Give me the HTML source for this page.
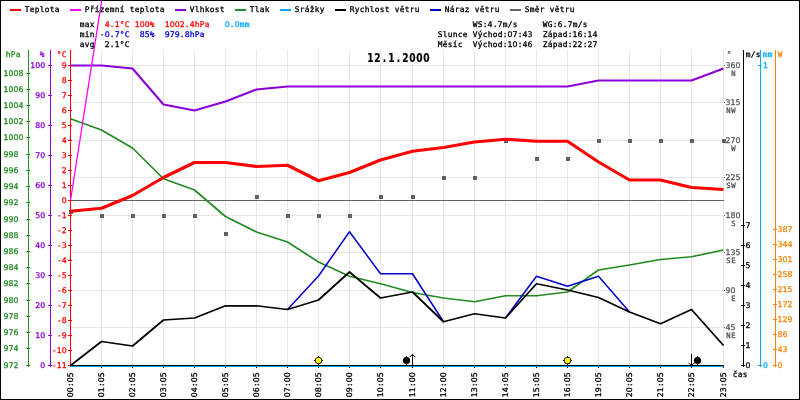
<!DOCTYPE html>
<html lang="cs"><head><meta charset="utf-8"><title>12.1.2000</title>
<style>html,body{margin:0;padding:0;background:#fff}svg{display:block}text{font-family:"DejaVu Sans Mono","Liberation Mono",monospace;font-size:7.8px;text-anchor:middle;stroke-width:0.3px}.d{font-family:"DejaVu Sans","Liberation Sans",sans-serif}.t{font-family:"DejaVu Sans","Liberation Sans",sans-serif;font-size:11.8px;font-weight:bold;stroke-width:0.2px}</style></head><body>
<svg width="800" height="400" viewBox="0 0 800 400">
<rect x="0" y="0" width="800" height="400" fill="#fff"/>
<g shape-rendering="crispEdges" fill="#ebe5e6">
<rect x="101" y="50" width="1" height="315"/>
<rect x="132" y="50" width="1" height="315"/>
<rect x="163" y="50" width="1" height="315"/>
<rect x="194" y="50" width="1" height="315"/>
<rect x="225" y="50" width="1" height="315"/>
<rect x="256" y="50" width="1" height="315"/>
<rect x="287" y="50" width="1" height="315"/>
<rect x="318" y="50" width="1" height="315"/>
<rect x="349" y="50" width="1" height="315"/>
<rect x="380" y="50" width="1" height="315"/>
<rect x="412" y="50" width="1" height="315"/>
<rect x="443" y="50" width="1" height="315"/>
<rect x="474" y="50" width="1" height="315"/>
<rect x="505" y="50" width="1" height="315"/>
<rect x="536" y="50" width="1" height="315"/>
<rect x="567" y="50" width="1" height="315"/>
<rect x="598" y="50" width="1" height="315"/>
<rect x="629" y="50" width="1" height="315"/>
<rect x="660" y="50" width="1" height="315"/>
<rect x="691" y="50" width="1" height="315"/>
<rect x="723" y="50" width="1" height="315"/>
<rect x="71" y="65" width="654" height="1"/>
<rect x="71" y="102" width="654" height="1"/>
<rect x="71" y="140" width="654" height="1"/>
<rect x="71" y="177" width="654" height="1"/>
<rect x="71" y="215" width="654" height="1"/>
<rect x="71" y="252" width="654" height="1"/>
<rect x="71" y="290" width="654" height="1"/>
<rect x="71" y="327" width="654" height="1"/>
</g>
<g shape-rendering="crispEdges" fill="#606060">
<rect x="69" y="210" width="4" height="4"/>
<rect x="100" y="214" width="4" height="4"/>
<rect x="131" y="214" width="4" height="4"/>
<rect x="162" y="214" width="4" height="4"/>
<rect x="193" y="214" width="4" height="4"/>
<rect x="224" y="232" width="4" height="4"/>
<rect x="255" y="195" width="4" height="4"/>
<rect x="286" y="214" width="4" height="4"/>
<rect x="317" y="214" width="4" height="4"/>
<rect x="348" y="214" width="4" height="4"/>
<rect x="379" y="195" width="4" height="4"/>
<rect x="411" y="195" width="4" height="4"/>
<rect x="442" y="176" width="4" height="4"/>
<rect x="473" y="176" width="4" height="4"/>
<rect x="504" y="139" width="4" height="4"/>
<rect x="535" y="157" width="4" height="4"/>
<rect x="566" y="157" width="4" height="4"/>
<rect x="597" y="139" width="4" height="4"/>
<rect x="628" y="139" width="4" height="4"/>
<rect x="659" y="139" width="4" height="4"/>
<rect x="690" y="139" width="4" height="4"/>
<rect x="722" y="139" width="4" height="4"/>
</g>
<rect x="71" y="200" width="653" height="1" fill="#606060" shape-rendering="crispEdges"/>
<g shape-rendering="crispEdges" fill="#228b22">
<rect x="28" y="50" width="1" height="317"/>
<rect x="26" y="365" width="4" height="1"/>
<rect x="26" y="348" width="4" height="1"/>
<rect x="26" y="332" width="4" height="1"/>
<rect x="26" y="316" width="4" height="1"/>
<rect x="26" y="300" width="4" height="1"/>
<rect x="26" y="283" width="4" height="1"/>
<rect x="26" y="267" width="4" height="1"/>
<rect x="26" y="251" width="4" height="1"/>
<rect x="26" y="235" width="4" height="1"/>
<rect x="26" y="219" width="4" height="1"/>
<rect x="26" y="202" width="4" height="1"/>
<rect x="26" y="186" width="4" height="1"/>
<rect x="26" y="170" width="4" height="1"/>
<rect x="26" y="154" width="4" height="1"/>
<rect x="26" y="137" width="4" height="1"/>
<rect x="26" y="121" width="4" height="1"/>
<rect x="26" y="105" width="4" height="1"/>
<rect x="26" y="89" width="4" height="1"/>
<rect x="26" y="73" width="4" height="1"/>
</g>
<g shape-rendering="crispEdges" fill="#8a00d8">
<rect x="50" y="50" width="1" height="317"/>
<rect x="48" y="365" width="4" height="1"/>
<rect x="48" y="335" width="4" height="1"/>
<rect x="48" y="305" width="4" height="1"/>
<rect x="48" y="275" width="4" height="1"/>
<rect x="48" y="245" width="4" height="1"/>
<rect x="48" y="215" width="4" height="1"/>
<rect x="48" y="185" width="4" height="1"/>
<rect x="48" y="155" width="4" height="1"/>
<rect x="48" y="125" width="4" height="1"/>
<rect x="48" y="95" width="4" height="1"/>
<rect x="48" y="65" width="4" height="1"/>
</g>
<g shape-rendering="crispEdges" fill="#ff0000">
<rect x="70" y="50" width="1" height="317"/>
<rect x="68" y="365" width="4" height="1"/>
<rect x="68" y="350" width="4" height="1"/>
<rect x="68" y="335" width="4" height="1"/>
<rect x="68" y="320" width="4" height="1"/>
<rect x="68" y="305" width="4" height="1"/>
<rect x="68" y="290" width="4" height="1"/>
<rect x="68" y="275" width="4" height="1"/>
<rect x="68" y="260" width="4" height="1"/>
<rect x="68" y="245" width="4" height="1"/>
<rect x="68" y="230" width="4" height="1"/>
<rect x="68" y="215" width="4" height="1"/>
<rect x="68" y="200" width="4" height="1"/>
<rect x="68" y="185" width="4" height="1"/>
<rect x="68" y="170" width="4" height="1"/>
<rect x="68" y="155" width="4" height="1"/>
<rect x="68" y="140" width="4" height="1"/>
<rect x="68" y="125" width="4" height="1"/>
<rect x="68" y="110" width="4" height="1"/>
<rect x="68" y="95" width="4" height="1"/>
<rect x="68" y="80" width="4" height="1"/>
<rect x="68" y="65" width="4" height="1"/>
</g>
<g shape-rendering="crispEdges" fill="#000">
<rect x="743" y="50" width="1" height="317"/>
<rect x="741" y="365" width="4" height="1"/>
<rect x="741" y="345" width="4" height="1"/>
<rect x="741" y="325" width="4" height="1"/>
<rect x="741" y="305" width="4" height="1"/>
<rect x="741" y="285" width="4" height="1"/>
<rect x="741" y="265" width="4" height="1"/>
<rect x="741" y="245" width="4" height="1"/>
<rect x="741" y="225" width="4" height="1"/>
</g>
<g shape-rendering="crispEdges" fill="#00aaff">
<rect x="760" y="50" width="1" height="317"/>
<rect x="758" y="65" width="4" height="1"/>
<rect x="758" y="365" width="4" height="1"/>
</g>
<g shape-rendering="crispEdges" fill="#ff8000">
<rect x="775" y="50" width="1" height="317"/>
<rect x="773" y="365" width="4" height="1"/>
<rect x="773" y="349" width="4" height="1"/>
<rect x="773" y="334" width="4" height="1"/>
<rect x="773" y="319" width="4" height="1"/>
<rect x="773" y="304" width="4" height="1"/>
<rect x="773" y="289" width="4" height="1"/>
<rect x="773" y="274" width="4" height="1"/>
<rect x="773" y="259" width="4" height="1"/>
<rect x="773" y="244" width="4" height="1"/>
<rect x="773" y="229" width="4" height="1"/>
</g>
<g shape-rendering="crispEdges" fill="#666">
<rect x="724" y="65" width="1" height="1"/>
<rect x="724" y="102" width="1" height="1"/>
<rect x="724" y="140" width="1" height="1"/>
<rect x="724" y="177" width="1" height="1"/>
<rect x="724" y="215" width="1" height="1"/>
<rect x="724" y="252" width="1" height="1"/>
<rect x="724" y="290" width="1" height="1"/>
<rect x="724" y="327" width="1" height="1"/>
</g>
<g shape-rendering="crispEdges">
<rect x="70" y="365" width="654" height="2" fill="#00aaff"/>
<rect x="70" y="365" width="654" height="1" fill="#000"/>
<rect x="101" y="367" width="1" height="1" fill="#000"/>
<rect x="132" y="367" width="1" height="1" fill="#000"/>
<rect x="163" y="367" width="1" height="1" fill="#000"/>
<rect x="194" y="367" width="1" height="1" fill="#000"/>
<rect x="225" y="367" width="1" height="1" fill="#000"/>
<rect x="256" y="367" width="1" height="1" fill="#000"/>
<rect x="287" y="367" width="1" height="1" fill="#000"/>
<rect x="318" y="367" width="1" height="1" fill="#000"/>
<rect x="349" y="367" width="1" height="1" fill="#000"/>
<rect x="380" y="367" width="1" height="1" fill="#000"/>
<rect x="412" y="367" width="1" height="1" fill="#000"/>
<rect x="443" y="367" width="1" height="1" fill="#000"/>
<rect x="474" y="367" width="1" height="1" fill="#000"/>
<rect x="505" y="367" width="1" height="1" fill="#000"/>
<rect x="536" y="367" width="1" height="1" fill="#000"/>
<rect x="567" y="367" width="1" height="1" fill="#000"/>
<rect x="598" y="367" width="1" height="1" fill="#000"/>
<rect x="629" y="367" width="1" height="1" fill="#000"/>
<rect x="660" y="367" width="1" height="1" fill="#000"/>
<rect x="691" y="367" width="1" height="1" fill="#000"/>
<rect x="723" y="367" width="1" height="1" fill="#000"/>
</g>
<polyline fill="none" stroke="#228b22" stroke-width="1.7" stroke-linejoin="round" stroke-linecap="butt" points="70.50,118.75 101.50,130.00 132.50,148.00 163.50,178.75 194.50,190.00 225.50,216.50 256.50,232.00 287.50,242.00 318.50,262.00 349.50,276.25 380.50,283.75 412.50,292.50 443.50,298.00 474.50,301.75 505.50,295.75 536.50,295.75 567.50,292.00 598.50,270.00 629.50,265.00 660.50,259.50 691.50,256.75 723.50,250.00"/>
<polyline fill="none" stroke="#0000cd" stroke-width="1.5" stroke-linejoin="round" points="287.50,309.50 318.50,276.00 349.50,231.75 380.50,273.75 412.50,273.75 443.50,321.75"/>
<polyline fill="none" stroke="#0000cd" stroke-width="1.5" stroke-linejoin="round" points="505.50,318.00 536.50,276.25 567.50,286.25 598.50,276.25 629.50,312.00"/>
<polyline fill="none" stroke="#000" stroke-width="1.75" stroke-linejoin="round" stroke-linecap="butt" points="70.50,365.50 101.50,341.50 132.50,346.00 163.50,320.00 194.50,318.00 225.50,305.75 256.50,305.75 287.50,309.50 318.50,300.00 349.50,272.00 380.50,298.00 412.50,292.00 443.50,321.75 474.50,313.75 505.50,318.00 536.50,283.75 567.50,290.00 598.50,297.50 629.50,312.00 660.50,323.75 691.50,309.50 723.50,345.50"/>
<polyline fill="none" stroke="#8a00d8" stroke-width="2.1" stroke-linejoin="round" stroke-linecap="butt" points="70.50,65.50 101.50,65.50 132.50,68.50 163.50,104.50 194.50,110.50 225.50,101.50 256.50,89.50 287.50,86.50 318.50,86.50 349.50,86.50 380.50,86.50 412.50,86.50 443.50,86.50 474.50,86.50 505.50,86.50 536.50,86.50 567.50,86.50 598.50,80.50 629.50,80.50 660.50,80.50 691.50,80.50 723.50,68.50"/>
<line x1="70.5" y1="200.5" x2="102.4" y2="-4" stroke="#ff00ff" stroke-width="1.3"/>
<polyline fill="none" stroke="#ff0000" stroke-width="3.1" stroke-linejoin="round" stroke-linecap="butt" points="70.50,211.25 101.50,208.25 132.50,195.50 163.50,177.50 194.50,162.50 225.50,162.50 256.50,166.50 287.50,165.25 318.50,180.75 349.50,172.50 380.50,160.00 412.50,151.25 443.50,147.50 474.50,142.00 505.50,139.25 536.50,141.25 567.50,141.25 598.50,162.00 629.50,180.00 660.50,180.00 691.50,187.50 723.50,189.50"/>
<circle cx="318.5" cy="360.5" r="3.6" fill="#000"/>
<path d="M318 356h1v9h-1zM314 360h9v1h-9z" fill="#000" shape-rendering="crispEdges"/>
<circle cx="318.5" cy="360.5" r="2.75" fill="#ffff00"/>
<circle cx="567.5" cy="360.5" r="3.6" fill="#000"/>
<path d="M567 356h1v9h-1zM563 360h9v1h-9z" fill="#000" shape-rendering="crispEdges"/>
<circle cx="567.5" cy="360.5" r="2.75" fill="#ffff00"/>
<circle cx="406.5" cy="360.5" r="3.6" fill="#000"/>
<rect x="406" y="356" width="1" height="9" fill="#000" shape-rendering="crispEdges"/>
<circle cx="697.5" cy="360.5" r="3.6" fill="#000"/>
<rect x="697" y="356" width="1" height="9" fill="#000" shape-rendering="crispEdges"/>
<rect x="412" y="354" width="1" height="14" fill="#000" shape-rendering="crispEdges"/>
<path d="M409.5 357.3L412.5 354.3L415.5 357.3" fill="none" stroke="#000" stroke-width="1"/>
<rect x="691" y="354" width="1" height="14" fill="#000" shape-rendering="crispEdges"/>
<path d="M688.5 362.7L691.5 365.7L694.5 362.7" fill="none" stroke="#000" stroke-width="1"/>
<text x="6 11 16" y="368" fill="#228b22" stroke="#228b22"><tspan class="d">972</tspan></text>
<text x="6 11 16" y="351" fill="#228b22" stroke="#228b22"><tspan class="d">974</tspan></text>
<text x="6 11 16" y="335" fill="#228b22" stroke="#228b22"><tspan class="d">976</tspan></text>
<text x="6 11 16" y="319" fill="#228b22" stroke="#228b22"><tspan class="d">978</tspan></text>
<text x="6 11 16" y="303" fill="#228b22" stroke="#228b22"><tspan class="d">980</tspan></text>
<text x="6 11 16" y="286" fill="#228b22" stroke="#228b22"><tspan class="d">982</tspan></text>
<text x="6 11 16" y="270" fill="#228b22" stroke="#228b22"><tspan class="d">984</tspan></text>
<text x="6 11 16" y="254" fill="#228b22" stroke="#228b22"><tspan class="d">986</tspan></text>
<text x="6 11 16" y="238" fill="#228b22" stroke="#228b22"><tspan class="d">988</tspan></text>
<text x="6 11 16" y="222" fill="#228b22" stroke="#228b22"><tspan class="d">990</tspan></text>
<text x="6 11 16" y="205" fill="#228b22" stroke="#228b22"><tspan class="d">992</tspan></text>
<text x="6 11 16" y="189" fill="#228b22" stroke="#228b22"><tspan class="d">994</tspan></text>
<text x="6 11 16" y="173" fill="#228b22" stroke="#228b22"><tspan class="d">996</tspan></text>
<text x="6 11 16" y="157" fill="#228b22" stroke="#228b22"><tspan class="d">998</tspan></text>
<text x="6 11 16 21" y="140" fill="#228b22" stroke="#228b22"><tspan class="d">1000</tspan></text>
<text x="6 11 16 21" y="124" fill="#228b22" stroke="#228b22"><tspan class="d">1002</tspan></text>
<text x="6 11 16 21" y="108" fill="#228b22" stroke="#228b22"><tspan class="d">1004</tspan></text>
<text x="6 11 16 21" y="92" fill="#228b22" stroke="#228b22"><tspan class="d">1006</tspan></text>
<text x="6 11 16 21" y="76" fill="#228b22" stroke="#228b22"><tspan class="d">1008</tspan></text>
<text x="42.8" y="368" fill="#8a00d8" stroke="#8a00d8"><tspan class="d">0</tspan></text>
<text x="37.8 42.8" y="338" fill="#8a00d8" stroke="#8a00d8"><tspan class="d">10</tspan></text>
<text x="37.8 42.8" y="308" fill="#8a00d8" stroke="#8a00d8"><tspan class="d">20</tspan></text>
<text x="37.8 42.8" y="278" fill="#8a00d8" stroke="#8a00d8"><tspan class="d">30</tspan></text>
<text x="37.8 42.8" y="248" fill="#8a00d8" stroke="#8a00d8"><tspan class="d">40</tspan></text>
<text x="37.8 42.8" y="218" fill="#8a00d8" stroke="#8a00d8"><tspan class="d">50</tspan></text>
<text x="37.8 42.8" y="188" fill="#8a00d8" stroke="#8a00d8"><tspan class="d">60</tspan></text>
<text x="37.8 42.8" y="158" fill="#8a00d8" stroke="#8a00d8"><tspan class="d">70</tspan></text>
<text x="37.8 42.8" y="128" fill="#8a00d8" stroke="#8a00d8"><tspan class="d">80</tspan></text>
<text x="37.8 42.8" y="98" fill="#8a00d8" stroke="#8a00d8"><tspan class="d">90</tspan></text>
<text x="32.8 37.8 42.8" y="68" fill="#8a00d8" stroke="#8a00d8"><tspan class="d">100</tspan></text>
<text x="54.3 59.3 64.3" y="368" fill="#ff0000" stroke="#ff0000">-<tspan class="d">11</tspan></text>
<text x="54.3 59.3 64.3" y="353" fill="#ff0000" stroke="#ff0000">-<tspan class="d">10</tspan></text>
<text x="59.3 64.3" y="338" fill="#ff0000" stroke="#ff0000">-<tspan class="d">9</tspan></text>
<text x="59.3 64.3" y="323" fill="#ff0000" stroke="#ff0000">-<tspan class="d">8</tspan></text>
<text x="59.3 64.3" y="308" fill="#ff0000" stroke="#ff0000">-<tspan class="d">7</tspan></text>
<text x="59.3 64.3" y="293" fill="#ff0000" stroke="#ff0000">-<tspan class="d">6</tspan></text>
<text x="59.3 64.3" y="278" fill="#ff0000" stroke="#ff0000">-<tspan class="d">5</tspan></text>
<text x="59.3 64.3" y="263" fill="#ff0000" stroke="#ff0000">-<tspan class="d">4</tspan></text>
<text x="59.3 64.3" y="248" fill="#ff0000" stroke="#ff0000">-<tspan class="d">3</tspan></text>
<text x="59.3 64.3" y="233" fill="#ff0000" stroke="#ff0000">-<tspan class="d">2</tspan></text>
<text x="59.3 64.3" y="218" fill="#ff0000" stroke="#ff0000">-<tspan class="d">1</tspan></text>
<text x="64.3" y="203" fill="#ff0000" stroke="#ff0000"><tspan class="d">0</tspan></text>
<text x="64.3" y="188" fill="#ff0000" stroke="#ff0000"><tspan class="d">1</tspan></text>
<text x="64.3" y="173" fill="#ff0000" stroke="#ff0000"><tspan class="d">2</tspan></text>
<text x="64.3" y="158" fill="#ff0000" stroke="#ff0000"><tspan class="d">3</tspan></text>
<text x="64.3" y="143" fill="#ff0000" stroke="#ff0000"><tspan class="d">4</tspan></text>
<text x="64.3" y="128" fill="#ff0000" stroke="#ff0000"><tspan class="d">5</tspan></text>
<text x="64.3" y="113" fill="#ff0000" stroke="#ff0000"><tspan class="d">6</tspan></text>
<text x="64.3" y="98" fill="#ff0000" stroke="#ff0000"><tspan class="d">7</tspan></text>
<text x="64.3" y="83" fill="#ff0000" stroke="#ff0000"><tspan class="d">8</tspan></text>
<text x="64.3" y="68" fill="#ff0000" stroke="#ff0000"><tspan class="d">9</tspan></text>
<text x="748" y="368" fill="#000" stroke="#000"><tspan class="d">0</tspan></text>
<text x="748" y="348" fill="#000" stroke="#000"><tspan class="d">1</tspan></text>
<text x="748" y="328" fill="#000" stroke="#000"><tspan class="d">2</tspan></text>
<text x="748" y="308" fill="#000" stroke="#000"><tspan class="d">3</tspan></text>
<text x="748" y="288" fill="#000" stroke="#000"><tspan class="d">4</tspan></text>
<text x="748" y="268" fill="#000" stroke="#000"><tspan class="d">5</tspan></text>
<text x="748" y="248" fill="#000" stroke="#000"><tspan class="d">6</tspan></text>
<text x="748" y="228" fill="#000" stroke="#000"><tspan class="d">7</tspan></text>
<text x="765.5" y="68" fill="#00aaff" stroke="#00aaff"><tspan class="d">1</tspan></text>
<text x="765.5" y="368" fill="#00aaff" stroke="#00aaff"><tspan class="d">0</tspan></text>
<text x="780" y="368" fill="#ff8000" stroke="#ff8000"><tspan class="d">0</tspan></text>
<text x="780 785" y="352" fill="#ff8000" stroke="#ff8000"><tspan class="d">43</tspan></text>
<text x="780 785" y="337" fill="#ff8000" stroke="#ff8000"><tspan class="d">86</tspan></text>
<text x="780 785 790" y="322" fill="#ff8000" stroke="#ff8000"><tspan class="d">129</tspan></text>
<text x="780 785 790" y="307" fill="#ff8000" stroke="#ff8000"><tspan class="d">172</tspan></text>
<text x="780 785 790" y="292" fill="#ff8000" stroke="#ff8000"><tspan class="d">215</tspan></text>
<text x="780 785 790" y="277" fill="#ff8000" stroke="#ff8000"><tspan class="d">258</tspan></text>
<text x="780 785 790" y="262" fill="#ff8000" stroke="#ff8000"><tspan class="d">301</tspan></text>
<text x="780 785 790" y="247" fill="#ff8000" stroke="#ff8000"><tspan class="d">344</tspan></text>
<text x="780 785 790" y="232" fill="#ff8000" stroke="#ff8000"><tspan class="d">387</tspan></text>
<text x="728 733 738" y="68" fill="#555" stroke="#555" stroke-width="0"><tspan class="d">360</tspan></text>
<text x="733.5" y="76" fill="#555" stroke="#555" stroke-width="0" style="font-size:7.2px">N</text>
<text x="728 733 738" y="105" fill="#555" stroke="#555" stroke-width="0"><tspan class="d">315</tspan></text>
<text x="728.5 733.5" y="113" fill="#555" stroke="#555" stroke-width="0" style="font-size:7.2px">NW</text>
<text x="728 733 738" y="143" fill="#555" stroke="#555" stroke-width="0"><tspan class="d">270</tspan></text>
<text x="733.5" y="151" fill="#555" stroke="#555" stroke-width="0" style="font-size:7.2px">W</text>
<text x="728 733 738" y="180" fill="#555" stroke="#555" stroke-width="0"><tspan class="d">225</tspan></text>
<text x="728.5 733.5" y="188" fill="#555" stroke="#555" stroke-width="0" style="font-size:7.2px">SW</text>
<text x="728 733 738" y="218" fill="#555" stroke="#555" stroke-width="0"><tspan class="d">180</tspan></text>
<text x="733.5" y="226" fill="#555" stroke="#555" stroke-width="0" style="font-size:7.2px">S</text>
<text x="728 733 738" y="255" fill="#555" stroke="#555" stroke-width="0"><tspan class="d">135</tspan></text>
<text x="728.5 733.5" y="263" fill="#555" stroke="#555" stroke-width="0" style="font-size:7.2px">SE</text>
<text x="728 733" y="293" fill="#555" stroke="#555" stroke-width="0"><tspan class="d">90</tspan></text>
<text x="733.5" y="301" fill="#555" stroke="#555" stroke-width="0" style="font-size:7.2px">E</text>
<text x="728 733" y="330" fill="#555" stroke="#555" stroke-width="0"><tspan class="d">45</tspan></text>
<text x="728.5 733.5" y="338" fill="#555" stroke="#555" stroke-width="0" style="font-size:7.2px">NE</text>
<text x="8 13 18" y="57" fill="#228b22" stroke="#228b22">hPa</text>
<text x="42" y="57" fill="#8a00d8" stroke="#8a00d8">%</text>
<text x="59 64" y="57" fill="#ff0000" stroke="#ff0000">°C</text>
<text x="729" y="57" fill="#555" stroke="#555" stroke-width="0">°</text>
<text x="748 753 758" y="57" fill="#000" stroke="#000">m/s</text>
<text x="765 770" y="57" fill="#00aaff" stroke="#00aaff">mm</text>
<text x="780" y="57" fill="#ff8000" stroke="#ff8000">W</text>
<text x="735 740 745" y="377" fill="#000" stroke="#000">čas</text>
<text transform="translate(73.3,397.2) rotate(-90)" x="2.5 7.5 12.5 17.5 22.5" fill="#000" stroke="#000"><tspan class="d">00</tspan>:<tspan class="d">05</tspan></text>
<text transform="translate(104.3,397.2) rotate(-90)" x="2.5 7.5 12.5 17.5 22.5" fill="#000" stroke="#000"><tspan class="d">01</tspan>:<tspan class="d">05</tspan></text>
<text transform="translate(135.3,397.2) rotate(-90)" x="2.5 7.5 12.5 17.5 22.5" fill="#000" stroke="#000"><tspan class="d">02</tspan>:<tspan class="d">05</tspan></text>
<text transform="translate(166.3,397.2) rotate(-90)" x="2.5 7.5 12.5 17.5 22.5" fill="#000" stroke="#000"><tspan class="d">03</tspan>:<tspan class="d">05</tspan></text>
<text transform="translate(197.3,397.2) rotate(-90)" x="2.5 7.5 12.5 17.5 22.5" fill="#000" stroke="#000"><tspan class="d">04</tspan>:<tspan class="d">05</tspan></text>
<text transform="translate(228.3,397.2) rotate(-90)" x="2.5 7.5 12.5 17.5 22.5" fill="#000" stroke="#000"><tspan class="d">05</tspan>:<tspan class="d">05</tspan></text>
<text transform="translate(259.3,397.2) rotate(-90)" x="2.5 7.5 12.5 17.5 22.5" fill="#000" stroke="#000"><tspan class="d">06</tspan>:<tspan class="d">05</tspan></text>
<text transform="translate(290.3,397.2) rotate(-90)" x="2.5 7.5 12.5 17.5 22.5" fill="#000" stroke="#000"><tspan class="d">07</tspan>:<tspan class="d">00</tspan></text>
<text transform="translate(321.3,397.2) rotate(-90)" x="2.5 7.5 12.5 17.5 22.5" fill="#000" stroke="#000"><tspan class="d">08</tspan>:<tspan class="d">05</tspan></text>
<text transform="translate(352.3,397.2) rotate(-90)" x="2.5 7.5 12.5 17.5 22.5" fill="#000" stroke="#000"><tspan class="d">09</tspan>:<tspan class="d">00</tspan></text>
<text transform="translate(383.3,397.2) rotate(-90)" x="2.5 7.5 12.5 17.5 22.5" fill="#000" stroke="#000"><tspan class="d">10</tspan>:<tspan class="d">05</tspan></text>
<text transform="translate(415.3,397.2) rotate(-90)" x="2.5 7.5 12.5 17.5 22.5" fill="#000" stroke="#000"><tspan class="d">11</tspan>:<tspan class="d">00</tspan></text>
<text transform="translate(446.3,397.2) rotate(-90)" x="2.5 7.5 12.5 17.5 22.5" fill="#000" stroke="#000"><tspan class="d">12</tspan>:<tspan class="d">00</tspan></text>
<text transform="translate(477.3,397.2) rotate(-90)" x="2.5 7.5 12.5 17.5 22.5" fill="#000" stroke="#000"><tspan class="d">13</tspan>:<tspan class="d">05</tspan></text>
<text transform="translate(508.3,397.2) rotate(-90)" x="2.5 7.5 12.5 17.5 22.5" fill="#000" stroke="#000"><tspan class="d">14</tspan>:<tspan class="d">05</tspan></text>
<text transform="translate(539.3,397.2) rotate(-90)" x="2.5 7.5 12.5 17.5 22.5" fill="#000" stroke="#000"><tspan class="d">15</tspan>:<tspan class="d">05</tspan></text>
<text transform="translate(570.3,397.2) rotate(-90)" x="2.5 7.5 12.5 17.5 22.5" fill="#000" stroke="#000"><tspan class="d">16</tspan>:<tspan class="d">05</tspan></text>
<text transform="translate(601.3,397.2) rotate(-90)" x="2.5 7.5 12.5 17.5 22.5" fill="#000" stroke="#000"><tspan class="d">19</tspan>:<tspan class="d">05</tspan></text>
<text transform="translate(632.3,397.2) rotate(-90)" x="2.5 7.5 12.5 17.5 22.5" fill="#000" stroke="#000"><tspan class="d">20</tspan>:<tspan class="d">05</tspan></text>
<text transform="translate(663.3,397.2) rotate(-90)" x="2.5 7.5 12.5 17.5 22.5" fill="#000" stroke="#000"><tspan class="d">21</tspan>:<tspan class="d">05</tspan></text>
<text transform="translate(694.3,397.2) rotate(-90)" x="2.5 7.5 12.5 17.5 22.5" fill="#000" stroke="#000"><tspan class="d">22</tspan>:<tspan class="d">05</tspan></text>
<text transform="translate(726.3,397.2) rotate(-90)" x="2.5 7.5 12.5 17.5 22.5" fill="#000" stroke="#000"><tspan class="d">23</tspan>:<tspan class="d">05</tspan></text>
<rect x="10" y="9" width="11" height="2" fill="#ff0000" shape-rendering="crispEdges"/>
<text x="27.2 32.2 37.2 42.2 47.2 52.2 57.2" y="12" fill="#000" stroke="#000">Teplota</text>
<rect x="70" y="9" width="11" height="2" fill="#ff00ff" shape-rendering="crispEdges"/>
<text x="87.2 92.2 97.2 102.2 107.2 112.2 117.2 122.2" y="12" fill="#000" stroke="#000">Přízemní</text>
<text x="132.2 137.2 142.2 147.2 152.2 157.2 162.2" y="12" fill="#000" stroke="#000">teplota</text>
<rect x="175" y="9" width="11" height="2" fill="#8a00d8" shape-rendering="crispEdges"/>
<text x="192.2 197.2 202.2 207.2 212.2 217.2 222.2" y="12" fill="#000" stroke="#000">Vlhkost</text>
<rect x="235" y="9" width="11" height="2" fill="#228b22" shape-rendering="crispEdges"/>
<text x="252.2 257.2 262.2 267.2" y="12" fill="#000" stroke="#000">Tlak</text>
<rect x="280" y="9" width="11" height="2" fill="#00aaff" shape-rendering="crispEdges"/>
<text x="297.2 302.2 307.2 312.2 317.2 322.2" y="12" fill="#000" stroke="#000">Srážky</text>
<rect x="335" y="9" width="11" height="2" fill="#000" shape-rendering="crispEdges"/>
<text x="352.2 357.2 362.2 367.2 372.2 377.2 382.2 387.2" y="12" fill="#000" stroke="#000">Rychlost</text>
<text x="397.2 402.2 407.2 412.2 417.2" y="12" fill="#000" stroke="#000">větru</text>
<rect x="430" y="9" width="11" height="2" fill="#0000cd" shape-rendering="crispEdges"/>
<text x="447.2 452.2 457.2 462.2 467.2" y="12" fill="#000" stroke="#000">Náraz</text>
<text x="477.2 482.2 487.2 492.2 497.2" y="12" fill="#000" stroke="#000">větru</text>
<rect x="510" y="9" width="11" height="2" fill="#666" shape-rendering="crispEdges"/>
<text x="527.2 532.2 537.2 542.2" y="12" fill="#000" stroke="#000">Směr</text>
<text x="552.2 557.2 562.2 567.2 572.2" y="12" fill="#000" stroke="#000">větru</text>
<text x="82.2 87.2 92.2" y="27" fill="#000" stroke="#000">max</text>
<text x="82.2 87.2 92.2" y="37" fill="#000" stroke="#000">min</text>
<text x="82.2 87.2 92.2" y="47" fill="#000" stroke="#000">avg</text>
<text x="107.2 112.2 117.2 122.2 127.2" y="27" fill="#ff0000" stroke="#ff0000"><tspan class="d">4</tspan>.<tspan class="d">1</tspan>°C</text>
<text x="137.2 142.2 147.2 152.2" y="27" fill="#ff0000" stroke="#ff0000"><tspan class="d">100</tspan>%</text>
<text x="167.2 172.2 177.2 182.2 187.2 192.2 197.2 202.2 207.2" y="27" fill="#ff0000" stroke="#ff0000"><tspan class="d">1002</tspan>.<tspan class="d">4</tspan>hPa</text>
<text x="227.2 232.2 237.2 242.2 247.2" y="27" fill="#00aaff" stroke="#00aaff"><tspan class="d">0</tspan>.<tspan class="d">0</tspan>mm</text>
<text x="102.2 107.2 112.2 117.2 122.2 127.2" y="37" fill="#0000cd" stroke="#0000cd">-<tspan class="d">0</tspan>.<tspan class="d">7</tspan>°C</text>
<text x="142.2 147.2 152.2" y="37" fill="#0000cd" stroke="#0000cd"><tspan class="d">85</tspan>%</text>
<text x="167.2 172.2 177.2 182.2 187.2 192.2 197.2 202.2" y="37" fill="#0000cd" stroke="#0000cd"><tspan class="d">979</tspan>.<tspan class="d">8</tspan>hPa</text>
<text x="107.2 112.2 117.2 122.2 127.2" y="47" fill="#000" stroke="#000"><tspan class="d">2</tspan>.<tspan class="d">1</tspan>°C</text>
<text x="475 480 485 490 495 500 505 510 515" y="27" fill="#000" stroke="#000">WS:<tspan class="d">4</tspan>.<tspan class="d">7</tspan>m/s</text>
<text x="545 550 555 560 565 570 575 580 585" y="27" fill="#000" stroke="#000">WG:<tspan class="d">6</tspan>.<tspan class="d">7</tspan>m/s</text>
<text x="440 445 450 455 460 465" y="37" fill="#000" stroke="#000">Slunce</text>
<text x="475 480 485 490 495 500 505 510 515 520 525 530" y="37" fill="#000" stroke="#000">Východ:<tspan class="d">07</tspan>:<tspan class="d">43</tspan></text>
<text x="545 550 555 560 565 570 575 580 585 590 595" y="37" fill="#000" stroke="#000">Západ:<tspan class="d">16</tspan>:<tspan class="d">14</tspan></text>
<text x="440 445 450 455 460" y="47" fill="#000" stroke="#000">Měsíc</text>
<text x="475 480 485 490 495 500 505 510 515 520 525 530" y="47" fill="#000" stroke="#000">Východ:<tspan class="d">10</tspan>:<tspan class="d">46</tspan></text>
<text x="545 550 555 560 565 570 575 580 585 590 595" y="47" fill="#000" stroke="#000">Západ:<tspan class="d">22</tspan>:<tspan class="d">27</tspan></text>
<text class="t" transform="translate(367,61.6) scale(0.77,1)" x="4.55 13.64 22.73 31.82 40.91 50 59.09 68.18 77.27" fill="#000" stroke="#000">12.1.2000</text>
<rect x="0.5" y="0.5" width="799" height="399" fill="none" stroke="#000" stroke-width="1" shape-rendering="crispEdges"/>
</svg></body></html>
